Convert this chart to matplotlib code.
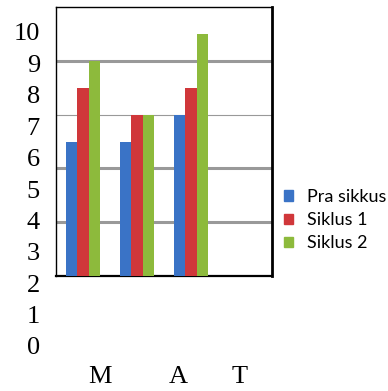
import matplotlib
matplotlib.use("Agg")
import numpy as np
import matplotlib.pyplot as plt
from matplotlib.patches import Patch

# data
groups = ["M", "A", "T"]
series = ["Pra sikkus", "Siklus 1", "Siklus 2"]
pra = [5, 5, 6]
siklus1 = [7, 6, 7]
siklus2 = [8, 6, 9]
colors = ["#3a73c6", "#d0373a", "#8dba3c"]
y_labels = list(range(0, 11))

W, H = 388, 391
fig = plt.figure(figsize=(W / 100, H / 100), dpi=100)

# main plotting box
ax = fig.add_axes([56 / W, 1 - 276 / H, 216 / W, 269 / H])
x = np.arange(len(groups))
bw = 0.215
for i, (vals, c) in enumerate(zip([pra, siklus1, siklus2], colors)):
    ax.bar(x + (i - 1) * bw, vals, width=bw, color=c, zorder=3, linewidth=0)

ax.set_xlim(-0.5, 3.5)
ax.set_ylim(0, 10)
for v, lw in [(2, 2.2), (4, 2.2), (6, 0.8), (8, 2.2)]:
    ax.axhline(v, color="#999999", lw=lw, zorder=1)
ax.set_xticks([])
ax.set_yticks([])
for side, lw in [("left", 1.0), ("top", 1.0), ("bottom", 1.6), ("right", 2.0)]:
    ax.spines[side].set_linewidth(lw)
    ax.spines[side].set_color("black")

# the value labels sit on their own scale, off from the gridlines
lab = fig.add_axes([40 / W, 1 - 346 / H, 0.0001, 314 / H])
lab.set_ylim(0, 10)
lab.set_yticks(y_labels)
lab.set_yticklabels([str(v) for v in y_labels], family="Liberation Serif", fontsize=19)
lab.tick_params(axis="y", length=0, pad=0)
lab.set_xticks([])
for s in lab.spines.values():
    s.set_visible(False)
lab.patch.set_visible(False)

# category letters below
for g, px in zip(groups, [100, 178, 240]):
    fig.text(px / W, 1 - 377 / H, g, ha="center", va="center",
             family="Liberation Serif", fontsize=19)

handles = [Patch(color=c, label=s) for c, s in zip(colors, series)]
fig.legend(handles=handles, loc="upper left", bbox_to_anchor=(284 / W, 1 - 189 / H),
           frameon=False, borderpad=0, borderaxespad=0, handlelength=0.5,
           handleheight=0.5, handletextpad=0.8, labelspacing=0.4,
           prop={"family": "Lato", "size": 13})

fig.savefig("out.png", dpi=100)
